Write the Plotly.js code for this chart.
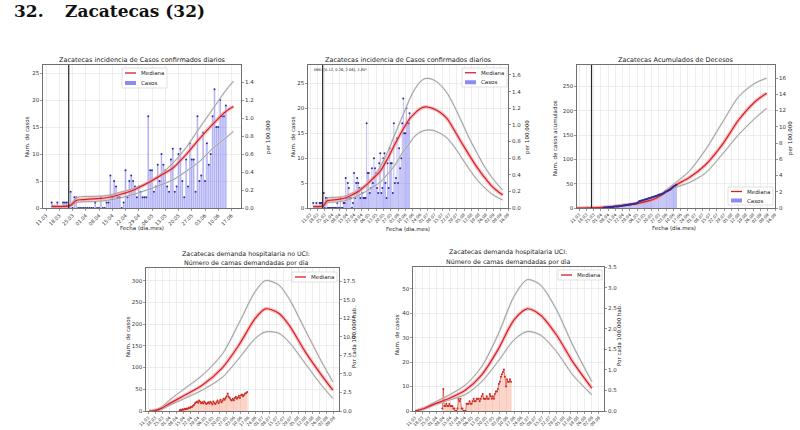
<!DOCTYPE html>
<html><head><meta charset="utf-8">
<script src="https://cdn.plot.ly/plotly-3.0.1.min.js"></script>
<style>html,body{margin:0;padding:0;background:#fff}#chart{width:800px;height:430px}</style>
</head><body><div id="chart"></div>
<script>
// ---------------- data ----------------
const CASES_START = '2020-03-14';
const dailyCases = [
  1,0,0,1,0,0,1,1,1,0,
  3,0,2,2,0,0,0,0,0,0,
  0,0,0,1,0,0,2,0,0,1,
  1,6,2,5,4,2,2,0,1,7,
  2,5,6,5,4,2,4,3,2,2,
  2,17,
  7,7,3,4,8,5,10,8,7,4,3,9,11,3,4,10,11,5,2,9,4,12,9,9,3,17,5,6,14,5,12,8,10,17,22,15,15,20,17,17,19
];
const DEATHS_START = '2020-04-04';
const cumDeaths = [
  1,1,1,1,1,2,2, 2,2,2,3,3,3,3, 3,4,4,4,5,5,5, 6,6,6,7,7,7,8,
  8,8,9,9,10,12,14, 15,15,16,16,17,18,18, 19,20,20,21,22,22,23,
  24,24,25,26,27,28,28, 29,30,31,33,34,35,36, 37,38,40,42,44,45,47, 48
];
const NOUCI_START = '2020-04-11';
const bedsNoUCI = [
  2,3,2,4,3,5,4, 6,5,8,7,10,9,12, 14,18,20,22,19,24,21, 18,20,17,22,19,16,18,
  20,17,21,19,15,22,18, 16,20,24,18,22,26,20, 24,28,26,30,34,40,33,
  30,26,24,28,25,30,33, 28,31,35,30,36,38,34, 37,40,41,44
];
const UCI_START = '2020-04-07';
const bedsUCI = [
  1,9,2,2,3,2,2, 3,2,2,2,1,1,0, 0,1,5,4,5,1,1, 0,0,0,3,3,3,4,
  3,3,4,5,4,4,5, 5,5,4,5,6,7,5, 5,5,6,5,5,7,6, 5,6,5,7,8,8,9,
  11,12,14,15,16,17,14, 10,13,12,12,13,12
];

const incDates = ['2020-03-14','2020-03-21','2020-03-24','2020-03-27','2020-03-30','2020-04-05','2020-04-12','2020-04-19','2020-04-26','2020-05-03','2020-05-10','2020-05-17','2020-05-24','2020-05-31','2020-06-07','2020-06-14','2020-06-18','2020-06-24','2020-06-29','2020-07-06','2020-07-13','2020-07-20','2020-07-27','2020-08-03','2020-08-10','2020-08-17','2020-08-24','2020-08-31','2020-09-07','2020-09-11'];
const incMedian = [0.3,0.3,0.5,1.4,1.55,1.7,1.9,2.5,3.3,4.5,5.9,7.4,9.9,12.8,15.5,17.9,18.8,19.9,20.3,20.0,19.2,17.9,15.5,13.0,10.6,8.3,6.3,4.5,3.2,2.6];
const incUpper  = [0.35,0.4,0.7,1.9,2.1,2.15,2.3,2.9,3.6,4.6,6.1,8.3,11.2,14.8,18.3,21.8,23.5,25.3,26.0,25.8,24.8,23.0,20.3,17.2,14.0,11.2,8.5,6.3,4.5,3.6];
const incLower  = [0.2,0.2,0.35,1.0,1.15,1.2,1.4,1.85,2.5,3.3,4.2,5.2,6.8,8.6,11.0,13.0,14.2,15.2,15.6,15.6,15.0,14.0,12.2,10.0,7.8,5.8,4.2,2.9,2.0,1.6];
const INC_CUTOFF = '2020-06-18';

const decDates  = ['2020-03-09','2020-03-21','2020-04-06','2020-04-22','2020-05-08','2020-05-24','2020-06-12','2020-06-25','2020-07-11','2020-07-27','2020-08-12','2020-08-28','2020-09-08'];
const decMedian = [0,0.5,2,5,10,20,47,62,89,130,181,219,236];
const decUpper  = [0,0.6,2.5,7,12,23,52,75,120,175,229,257,267];
const decLower  = [0,0.4,1.5,4,9,18,42,52,72,110,151,185,205];

const nuciDates  = ['2020-03-12','2020-03-16','2020-03-23','2020-04-01','2020-04-15','2020-05-03','2020-05-23','2020-06-08','2020-06-24','2020-07-04','2020-07-17','2020-07-27','2020-08-12','2020-08-28','2020-09-08'];
const nuciMedian = [0,0.5,5,17,35,59,100,152,213,235,225,198,136,82,48];
const nuciUpper  = [0,0.6,7,25,50,82,132,202,275,300,290,259,186,113,67];
const nuciLower  = [0,0.4,3,13,28,48,78,121,167,182,179,159,109,59,29];

const uciDates  = ['2020-03-11','2020-03-20','2020-03-28','2020-04-14','2020-04-30','2020-05-16','2020-06-01','2020-06-17','2020-06-30','2020-07-13','2020-07-29','2020-08-14','2020-09-02'];
const uciMedian = [0,1,2.5,5.2,8.6,14.8,25,37.3,41.8,39.3,31.1,20.2,9.3];
const uciUpper  = [0,1.2,3.1,6.6,10.7,18.2,31.1,46.9,53.7,51.6,41.4,27,12];
const uciLower  = [0,0.8,2.2,4.5,6.8,12,20.2,29.1,32.5,31.1,24.3,14.8,6.6];

const VLINE_DATE = '2020-03-23';

// ---------------- helpers ----------------
const DAY = 86400000;
function days(start, n){
  const t0 = Date.parse(start + 'T00:00:00Z'), out = [];
  for (let i = 0; i < n; i++) out.push(new Date(t0 + i*DAY).toISOString().slice(0,10));
  return out;
}
const W = 800, H = 430;
const PX = x => x / W, PY = y => 1 - y / H;
const FONT = 'DejaVu Sans';

const panels = [
  {x:[43,241],  y:[65,208],  xr:['2020-03-09 10:00','2020-06-22'], yl:[0,26.5], yr:[0,1.596], ld:5,  rd:0.2, rf:'.1f', xfs:5},
  {x:[308,508], y:[65,208],  xr:['2020-03-09','2020-09-16'], yl:[0,28.7], yr:[0,1.72],  ld:5,  rd:0.2, rf:'.1f', xfs:4.2},
  {x:[577,775], y:[65,208],  xr:['2020-03-09','2020-09-16'], yl:[0,294],  yr:[0,17.6],  ld:50, rd:2,   rf:'d',   xfs:4.2},
  {x:[146,339], y:[268,411], xr:['2020-03-09','2020-09-14'], yl:[0,329],  yr:[0,19.3],  ld:50, rd:2.5, rf:'.1f', xfs:4.2},
  {x:[413,604], y:[267,411], xr:['2020-03-09','2020-09-14'], yl:[0,58.9], yr:[0,3.5],   ld:10, rd:0.5, rf:'.1f', xfs:4.2}
];

const layout = {
  width: W, height: H, margin:{l:0,r:0,t:0,b:0},
  paper_bgcolor:'#fff', plot_bgcolor:'#fff', showlegend:false,
  font:{family:FONT, color:'#333'}, annotations:[], shapes:[]
};
const traces = [];

panels.forEach((p, i) => {
  const n = i + 1;
  const xk = n === 1 ? 'xaxis' : 'xaxis' + n;
  const xa = n === 1 ? 'x' : 'x' + n;
  const ylN = 2*n - 1, yrN = 2*n;
  const ylk = ylN === 1 ? 'yaxis' : 'yaxis' + ylN;
  const yla = ylN === 1 ? 'y' : 'y' + ylN;
  const yrk = 'yaxis' + yrN, yra = 'y' + yrN;
  p.xa = xa; p.ya = yla; p.yra = yra;
  layout[xk] = {
    domain:[PX(p.x[0]), PX(p.x[1])], anchor: yla, type:'date', range: p.xr,
    tick0:'2020-03-11', dtick: 7*DAY, tickformat:'%d.%m', tickangle:-45,
    tickfont:{size:p.xfs, color:'#333'}, showgrid:true, gridcolor:'#e3e3e3', gridwidth:0.6,
    showline:true, mirror:true, linecolor:'#333', linewidth:0.7,
    ticks:'outside', ticklen:2, tickwidth:0.5, tickcolor:'#333', zeroline:false, fixedrange:true
  };
  layout[ylk] = {
    domain:[PY(p.y[1]), PY(p.y[0])], anchor: xa, range: p.yl, dtick: p.ld, tick0:0,
    tickfont:{size:5.5, color:'#333'}, showgrid:true, gridcolor:'#e3e3e3', gridwidth:0.6,
    showline:true, mirror:true, linecolor:'#333', linewidth:0.7,
    ticks:'outside', ticklen:2, tickwidth:0.5, tickcolor:'#333', zeroline:false, fixedrange:true
  };
  layout[yrk] = {
    overlaying: yla, side:'right', anchor: xa, range: p.yr, dtick: p.rd, tick0:0, tickformat: p.rf,
    tickfont:{size:5.5, color:'#333'}, showgrid:false, showline:false, zeroline:false,
    ticks:'outside', ticklen:2, tickwidth:0.5, tickcolor:'#333', fixedrange:true
  };
  traces.push({x:[p.xr[0]], y:[0], xaxis:xa, yaxis:yra, type:'scatter', mode:'markers',
    marker:{opacity:0}, hoverinfo:'skip', showlegend:false});
});

function bars(xs, ys, p, color){
  return {type:'bar', x:xs, y:ys, width:0.8*DAY, xaxis:p.xa, yaxis:p.ya,
    marker:{color:color, line:{width:0}}, hoverinfo:'skip', showlegend:false};
}
function pts(xs, ys, p, color, lw){
  return {type:'scatter', mode: lw ? 'lines+markers' : 'markers', x:xs, y:ys, xaxis:p.xa, yaxis:p.ya,
    line:{color:color, width:lw||0}, marker:{size:2, color:color}, hoverinfo:'skip', showlegend:false};
}
function curve(xs, ys, p, color, w){
  return {type:'scatter', mode:'lines', x:xs, y:ys, xaxis:p.xa, yaxis:p.ya,
    line:{color:color, width:w, shape:'spline', smoothing:0.8}, hoverinfo:'skip', showlegend:false};
}
function addCurves(xs, med, up, lo, p){
  traces.push(curve(xs, up, p, 'rgba(215,215,215,0.6)', 2.2));
  traces.push(curve(xs, lo, p, 'rgba(215,215,215,0.6)', 2.2));
  traces.push(curve(xs, up, p, 'rgb(140,140,140)', 0.8));
  traces.push(curve(xs, lo, p, 'rgb(140,140,140)', 0.8));
  traces.push(curve(xs, med, p, 'rgba(245,150,150,0.6)', 3.6));
  traces.push(curve(xs, med, p, 'rgb(214,30,40)', 1.2));
}

const BLUE_BAR = 'rgba(115,115,240,0.55)', BLUE_PT = 'rgb(45,45,160)';
const RED_BAR = 'rgba(250,150,120,0.55)', RED_PT = 'rgb(205,45,35)';

// panel 1
const caseDates = days(CASES_START, dailyCases.length);
const cut = incDates.filter(d => d <= INC_CUTOFF).length;
traces.push(bars(caseDates, dailyCases, panels[0], BLUE_BAR));
traces.push(pts(caseDates, dailyCases, panels[0], BLUE_PT));
addCurves(incDates.slice(0,cut), incMedian.slice(0,cut), incUpper.slice(0,cut), incLower.slice(0,cut), panels[0]);
// panel 2
traces.push(bars(caseDates, dailyCases, panels[1], BLUE_BAR));
traces.push(pts(caseDates, dailyCases, panels[1], BLUE_PT));
addCurves(incDates, incMedian, incUpper, incLower, panels[1]);
// panel 3
const deathDates = days(DEATHS_START, cumDeaths.length);
traces.push(bars(deathDates, cumDeaths, panels[2], BLUE_BAR));
addCurves(decDates, decMedian, decUpper, decLower, panels[2]);
traces.push(pts(deathDates, cumDeaths, panels[2], BLUE_PT, 1.1));
// panel 4
const nuciBarDates = days(NOUCI_START, bedsNoUCI.length);
traces.push(bars(nuciBarDates, bedsNoUCI, panels[3], RED_BAR));
traces.push(pts(nuciBarDates, bedsNoUCI, panels[3], RED_PT, 0.6));
addCurves(nuciDates, nuciMedian, nuciUpper, nuciLower, panels[3]);
// panel 5
const uciBarDates = days(UCI_START, bedsUCI.length);
traces.push(bars(uciBarDates, bedsUCI, panels[4], RED_BAR));
traces.push(pts(uciBarDates, bedsUCI, panels[4], RED_PT, 0.6));
addCurves(uciDates, uciMedian, uciUpper, uciLower, panels[4]);

// vertical reference lines (top row)
[0,1,2].forEach(i => {
  const p = panels[i];
  layout.shapes.push({type:'line', xref:p.xa, yref:p.ya + ' domain', x0:VLINE_DATE, x1:VLINE_DATE, y0:0, y1:1,
    line:{color:'rgb(40,40,40)', width:1.2}});
});

// text helpers
function txt(x, y, s, size, opts){
  layout.annotations.push(Object.assign({xref:'paper', yref:'paper', x:PX(x), y:PY(y), text:s,
    showarrow:false, xanchor:'center', yanchor:'middle', font:{family:FONT, size:size, color:'#222'}}, opts||{}));
}
function legendBox(x0, y0, x1, y1, items){
  layout.shapes.push({type:'rect', xref:'paper', yref:'paper', x0:PX(x0), x1:PX(x1), y0:PY(y1), y1:PY(y0),
    fillcolor:'rgba(255,255,255,0.9)', line:{color:'#cccccc', width:0.6}});
  const rh = (y1 - y0) / items.length;
  items.forEach((it, k) => {
    const cy = y0 + rh*(k + 0.5);
    if (it.kind === 'line') {
      layout.shapes.push({type:'line', xref:'paper', yref:'paper', x0:PX(x0+3), x1:PX(x0+14), y0:PY(cy), y1:PY(cy),
        line:{color:it.color, width:1.3}});
    } else {
      layout.shapes.push({type:'rect', xref:'paper', yref:'paper', x0:PX(x0+3), x1:PX(x0+14), y0:PY(cy+2), y1:PY(cy-2),
        fillcolor:it.color, line:{width:0}});
    }
    txt(x0 + 17, cy, it.label, 5.5, {xanchor:'left'});
  });
}

// heading
const HEAD_FONT = {family:'DejaVu Serif', size:17, color:'#111'};
txt(12, 11, '<b>32.</b>', 17, {xanchor:'left', font:HEAD_FONT});
txt(63, 11, '<b>Zacatecas (32)</b>', 17, {xanchor:'left', font:HEAD_FONT});

// panel titles
txt(142, 60, 'Zacatecas incidencia de Casos confirmados diarios', 6.5);
txt(408, 60, 'Zacatecas incidencia de Casos confirmados diarios', 6.5);
txt(676, 60, 'Zacatecas Acumulados de Decesos', 6.5);
txt(246, 254, 'Zacatecas demanda hospitalaria no UCI:', 6.3);
txt(246, 263, 'Número de camas demandadas por dia', 6.3);
txt(508, 252, 'Zacatecas demanda hospitalaria UCI:', 6.3);
txt(508, 262, 'Número de camas demandadas por dia', 6.3);

// axis titles
txt(27, 137, 'Num. de casos', 5.5, {textangle:-90});
txt(268, 137, 'per 100,000', 5.5, {textangle:-90});
txt(142, 228, 'Fecha (dia.mes)', 5.5);
txt(293, 137, 'Num. de casos', 5.5, {textangle:-90});
txt(527, 137, 'per 100,000', 5.5, {textangle:-90});
txt(408, 229, 'Fecha (dia.mes)', 5.5);
txt(555, 138, 'Num. de casos acumulados', 5.5, {textangle:-90});
txt(790, 138, 'per 100,000', 5.5, {textangle:-90});
txt(674, 228, 'Fecha (dia.mes)', 5.5);
txt(128, 337, 'Num. de casos', 5.5, {textangle:-90});
txt(354, 337, 'Por cada 100,000 hab.', 5.5, {textangle:-90});
txt(397, 335, 'Num. de casos', 5.5, {textangle:-90});
txt(619, 335, 'Por cada 100,000 hab.', 5.5, {textangle:-90});

// annotation inside panel 2
txt(312, 70, 'MMI: [0.12, 0.26, 2.06], 2.80*', 3.6, {xanchor:'left'});

// legends
const RED_LINE = 'rgb(214,30,40)', BLUE_BOX = 'rgba(100,100,240,0.75)';
legendBox(122, 68, 167, 88, [{kind:'line', color:RED_LINE, label:'Mediana'}, {kind:'box', color:BLUE_BOX, label:'Casos'}]);
legendBox(462, 68, 507, 87, [{kind:'line', color:RED_LINE, label:'Mediana'}, {kind:'box', color:BLUE_BOX, label:'Casos'}]);
legendBox(728, 187, 773, 205, [{kind:'line', color:RED_LINE, label:'Mediana'}, {kind:'box', color:BLUE_BOX, label:'Casos'}]);
legendBox(292, 272, 337, 282, [{kind:'line', color:RED_LINE, label:'Mediana'}]);
legendBox(558, 270, 602, 280, [{kind:'line', color:RED_LINE, label:'Mediana'}]);

Plotly.newPlot('chart', traces, layout, {staticPlot:true, displayModeBar:false});
</script>
</body></html>
